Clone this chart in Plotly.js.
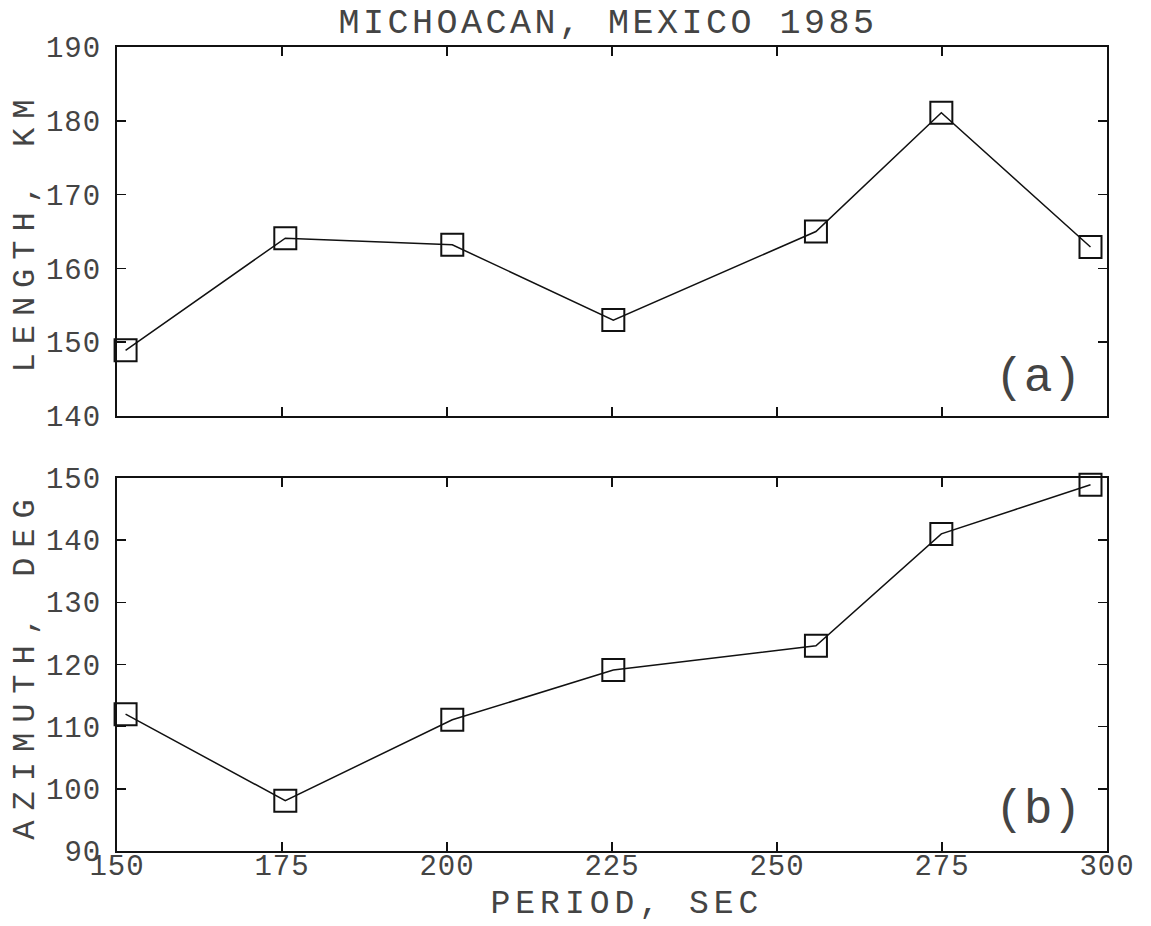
<!DOCTYPE html>
<html>
<head>
<meta charset="utf-8">
<script src="https://cdn.plot.ly/plotly-3.0.1.min.js"></script>
<style>
  html, body { margin: 0; padding: 0; background: #fff; }
  #chart { width: 1151px; height: 926px; }
  .gtitle { letter-spacing: 3.5px; }
  .annotation[data-index="2"] text { letter-spacing: 5px; }
  .ytitle { letter-spacing: 9px; }
  .y2title { letter-spacing: 10px; }
  .xtick text, .x2tick text, .ytick text, .y2tick text { letter-spacing: 1px; }
</style>
</head>
<body>
<div id="chart"></div>
<script>
// Period (sec) for each measurement
const periodSec = [151.3, 175.5, 200.8, 225.2, 255.9, 274.9, 297.5];
// (a) rupture length, km
const lengthKm = [148.9, 164.1, 163.2, 153.0, 165.0, 181.1, 162.9];
// (b) rupture azimuth, deg
const azimuthDeg = [112.0, 98.1, 111.1, 119.1, 123.0, 141.0, 148.9];

const titleText = 'MICHOACAN, MEXICO 1985';
const xTitle = 'PERIOD, SEC';
const yTitleA = 'LENGTH, KM';
const yTitleB = 'AZIMUTH, DEG';
const panelA = '(a)';
const panelB = '(b)';

const FONT = '"Liberation Mono", "DejaVu Sans Mono", monospace';
const INK = '#111';
const TEXT = '#444';

const lineStyle = { color: INK, width: 1.5 };
const markerStyle = { symbol: 'square-open', size: 22, color: INK, line: { color: INK, width: 2 } };

const traces = [
  { x: periodSec, y: lengthKm, xaxis: 'x', yaxis: 'y', mode: 'lines+markers',
    line: lineStyle, marker: markerStyle, cliponaxis: false, hoverinfo: 'x+y' },
  { x: periodSec, y: azimuthDeg, xaxis: 'x2', yaxis: 'y2', mode: 'lines+markers',
    line: lineStyle, marker: markerStyle, cliponaxis: false, hoverinfo: 'x+y' }
];

const baseAxis = {
  showline: true, linecolor: INK, linewidth: 2, mirror: 'ticks',
  ticks: 'inside', ticklen: 9, tickwidth: 1.5, tickcolor: INK,
  showgrid: false, zeroline: false, automargin: false,
  tickfont: { family: FONT, size: 29, color: TEXT }
};

const layout = {
  width: 1151, height: 926,
  margin: { l: 117, r: 44, t: 47, b: 75 },
  paper_bgcolor: '#fff', plot_bgcolor: '#fff',
  showlegend: false,
  font: { family: FONT, color: TEXT },
  title: { text: titleText, font: { family: FONT, size: 35, color: TEXT },
           x: 0.496, xref: 'paper', xanchor: 'center', y: 1 - 21 / 926, yanchor: 'middle' },
  xaxis: Object.assign({}, baseAxis, { domain: [0, 1], anchor: 'y', range: [150, 300],
           dtick: 25, tick0: 150, showticklabels: false }),
  yaxis: Object.assign({}, baseAxis, { domain: [0.541, 1], anchor: 'x', range: [140, 190],
           dtick: 10, tick0: 140, ticklabelstandoff: 8,
           title: { text: yTitleA, font: { family: FONT, size: 32, color: TEXT }, standoff: 2 } }),
  xaxis2: Object.assign({}, baseAxis, { domain: [0, 1], anchor: 'y2', range: [150, 300],
           dtick: 25, tick0: 150, matches: 'x', ticklabelstandoff: -13 }),
  yaxis2: Object.assign({}, baseAxis, { domain: [0, 0.464], anchor: 'x2', range: [90, 150],
           dtick: 10, tick0: 90, ticklabelstandoff: 8,
           title: { text: yTitleB, font: { family: FONT, size: 32, color: TEXT }, standoff: 2 } }),
  annotations: [
    { text: panelA, xref: 'x', yref: 'y', x: 289.5, y: 145.2, showarrow: false,
      font: { family: FONT, size: 48, color: TEXT } },
    { text: panelB, xref: 'x2', yref: 'y2', x: 289.5, y: 96.6, showarrow: false,
      font: { family: FONT, size: 48, color: TEXT } },
    { text: xTitle, xref: 'paper', yref: 'paper', x: 0.515, xanchor: 'center',
      y: -(904 - 851) / 804, yanchor: 'middle', showarrow: false,
      font: { family: FONT, size: 33, color: TEXT } }
  ]
};

Plotly.newPlot('chart', traces, layout, { staticPlot: true, displayModeBar: false });
</script>
</body>
</html>
